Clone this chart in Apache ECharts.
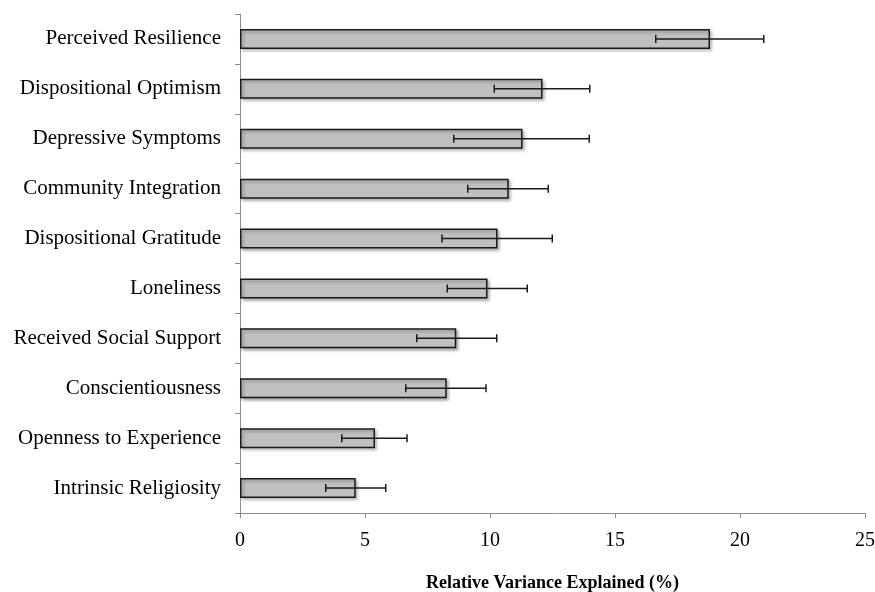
<!DOCTYPE html>
<html>
<head>
<meta charset="utf-8">
<script src="https://cdn.jsdelivr.net/npm/echarts@6/dist/echarts.min.js"></script>
<style>
  html, body { margin: 0; padding: 0; background: #fff; }
  #chart { width: 875px; height: 592px; }
</style>
</head>
<body>
<div id="chart"></div>
<script>
// predictors, top to bottom
var categories = [
    'Perceived Resilience',
    'Dispositional Optimism',
    'Depressive Symptoms',
    'Community Integration',
    'Dispositional Gratitude',
    'Loneliness',
    'Received Social Support',
    'Conscientiousness',
    'Openness to Experience',
    'Intrinsic Religiosity'
];
var values = [18.8, 12.1, 11.3, 10.75, 10.3, 9.9, 8.65, 8.27, 5.4, 4.63];
var errLow = [16.63, 10.17, 8.55, 9.11, 8.08, 8.29, 7.07, 6.63, 4.07, 3.43];
var errHigh = [20.95, 13.99, 13.97, 12.33, 12.49, 11.49, 10.27, 9.84, 6.68, 5.83];
var xTicks = [0, 5, 10, 15, 20, 25];

var font = '"Liberation Serif", "Times New Roman", serif';

var errData = categories.map(function (c, i) {
    return [i, errLow[i], errHigh[i]];
});

var chart = echarts.init(document.getElementById('chart'));
var option = {
    animation: false,
    backgroundColor: '#fff',
    grid: { left: 240, right: 10, top: 14, bottom: 79, outerBoundsMode: 'none' },
    xAxis: {
        type: 'value',
        min: xTicks[0],
        max: xTicks[xTicks.length - 1],
        interval: 5,
        name: 'Relative Variance Explained (%)',
        nameLocation: 'middle',
        nameGap: 61,
        nameTextStyle: { fontFamily: font, fontWeight: 'bold', fontSize: 18, color: '#000' },
        axisLine: { show: true, lineStyle: { color: '#8c8c8c', width: 1 } },
        axisTick: { show: true, length: 5, lineStyle: { color: '#8c8c8c' } },
        axisLabel: { fontFamily: font, fontSize: 20, color: '#000', margin: 18 },
        splitLine: { show: false }
    },
    yAxis: {
        type: 'category',
        data: categories,
        inverse: true,
        axisLine: { show: true, lineStyle: { color: '#8c8c8c', width: 1 } },
        axisTick: { show: true, length: 5, lineStyle: { color: '#8c8c8c' } },
        axisLabel: { fontFamily: font, fontSize: 21, color: '#000', margin: 19 },
        splitLine: { show: false }
    },
    series: [
        {
            type: 'bar',
            data: values,
            barWidth: 20,
            itemStyle: {
                color: '#c0c0c0',
                borderColor: '#1a1a1a',
                borderWidth: 1.5,
                shadowColor: 'rgba(0,0,0,0.3)',
                shadowBlur: 3,
                shadowOffsetX: 2,
                shadowOffsetY: 2
            }
        },
        {
            // error bars
            type: 'custom',
            data: errData,
            z: 5,
            renderItem: function (params, api) {
                var cat = api.value(0);
                var lo = api.coord([api.value(1), cat]);
                var hi = api.coord([api.value(2), cat]);
                var h = 4;
                var style = { stroke: '#1a1a1a', lineWidth: 1.5 };
                return {
                    type: 'group',
                    children: [
                        { type: 'line', shape: { x1: lo[0], y1: lo[1], x2: hi[0], y2: hi[1] }, style: style },
                        { type: 'line', shape: { x1: lo[0], y1: lo[1] - h, x2: lo[0], y2: lo[1] + h }, style: style },
                        { type: 'line', shape: { x1: hi[0], y1: hi[1] - h, x2: hi[0], y2: hi[1] + h }, style: style }
                    ]
                };
            }
        }
    ]
};
chart.setOption(option);
</script>
</body>
</html>
